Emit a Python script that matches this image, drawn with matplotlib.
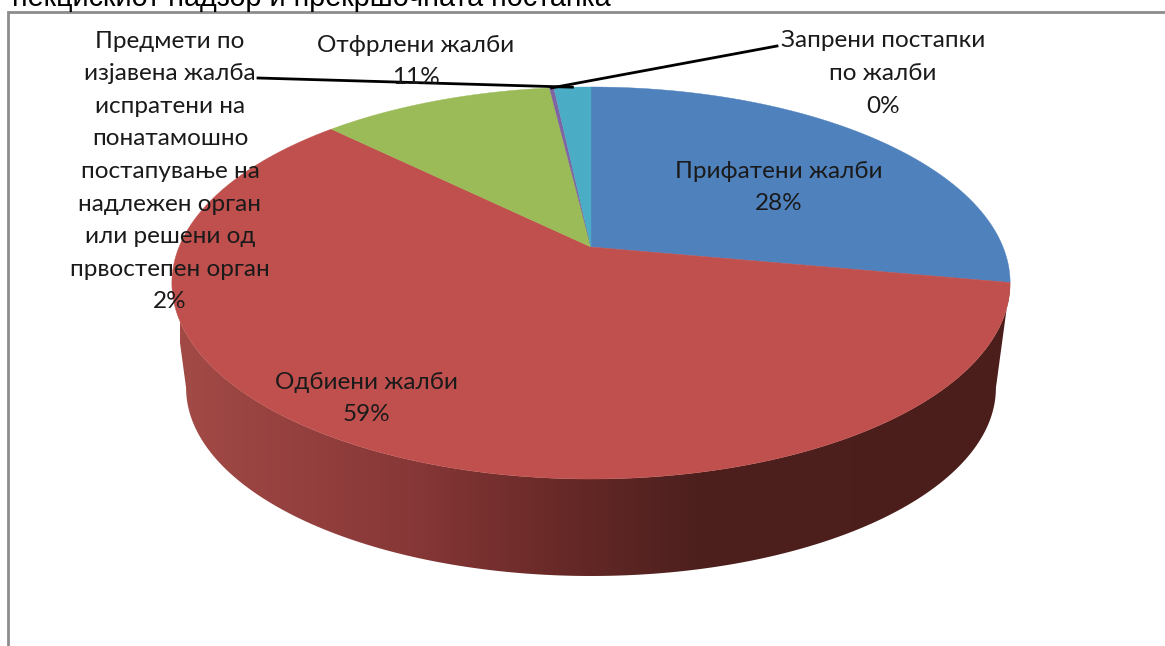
import numpy as np
import matplotlib
matplotlib.use('Agg')
import matplotlib.pyplot as plt
from matplotlib.colors import LinearSegmentedColormap

plt.rcParams['font.family'] = ['Lato', 'Open Sans', 'DejaVu Sans']

# slices, clockwise from 12 o'clock
labels = ['Прифатени жалби\n28%',
          'Одбиени жалби\n59%',
          'Отфрлени жалби\n11%',
          'Запрени постапки\nпо жалби\n0%',
          'Предмети по\nизјавена жалба\nиспратени на\nпонатамошно\nпостапување на\nнадлежен орган\nили решени од\nпрвостепен орган\n2%']
shares = [27.9, 59.5, 10.7, 0.2, 1.7]
colors = ['#4F81BD', '#C0504D', '#9BBB59', '#8064A2', '#4BACC6']
label_x = [779, 366, 416, 883, 170]
label_y = [187.5, 398.5, 61.5, 73.5, 171.5]
heading = 'пекцискиот надзор и прекршочната постапка'

# perspective of the tilted disc
k = 0.1837
top_disc = (591, 247, 412, 189.4)
low_disc = (591, 353.4, 398, 181.7)


def project(theta, disc):
    cx, cy, a, b = disc
    w = 1 + k * np.cos(theta)
    return cx + a * np.sin(theta) / w, cy - b * np.cos(theta) / w


fig = plt.figure(figsize=(11.65, 6.46), dpi=100)
ax = fig.add_axes([0, 0, 1, 1])
ax.set_xlim(0, 1165)
ax.set_ylim(646, 0)
ax.axis('off')

# frame of the embedded chart, open at the right and bottom
ax.plot([7.5, 7.5, 1165], [646, 12, 12], color='#8c8c8c', lw=2, solid_joinstyle='miter')

# side wall, shaded left to right and clipped to the outline of the lower disc
wall_cmap = LinearSegmentedColormap.from_list('wall', [
    (0.0, (162/255, 74/255, 70/255)),
    (0.28, (135/255, 55/255, 55/255)),
    (0.45, (105/255, 42/255, 40/255)),
    (0.62, (77/255, 32/255, 30/255)),
    (1.0, (75/255, 30/255, 28/255))])
t = np.radians(np.linspace(100.6, 259.4, 300))
lx, ly = project(t, low_disc)
ux, uy = project(t[::-1], top_disc)
wall = plt.Polygon(np.c_[np.r_[lx, ux], np.r_[ly, uy]], closed=True, transform=ax.transData,
                   fc='none', ec='none')
ax.add_patch(wall)
img = ax.imshow(np.linspace(0, 1, 512)[None, :], extent=[180, 1010, 580, 280], cmap=wall_cmap,
                aspect='auto', interpolation='bilinear')
img.set_clip_path(wall)
ax.set_xlim(0, 1165)
ax.set_ylim(646, 0)

# top face
edges = np.cumsum([0] + shares) / sum(shares) * 2 * np.pi
for i in range(len(shares)):
    t = np.linspace(edges[i], edges[i+1], 200)
    x, y = project(t, top_disc)
    ax.fill(np.r_[top_disc[0], x], np.r_[top_disc[1], y], color=colors[i], lw=0.3)

# leader lines to the two thin slices
mids = 0.5 * (edges[:-1] + edges[1:])
mx, my = project(mids[3], top_disc)
ax.plot([777, mx], [46, my], color='black', lw=2)
mx, my = project(mids[4], top_disc)
ax.plot([258, mx], [78, my], color='black', lw=2)

for i in range(len(labels)):
    ax.text(label_x[i], label_y[i], labels[i], ha='center', va='center', fontsize=17.5,
            linespacing=1.68, color='#1a1a1a')

ax.text(12, 5.5, heading, ha='left', va='baseline', fontsize=20.7,
        family=['Liberation Sans', 'DejaVu Sans'], color='black')

fig.savefig('out.png', dpi=100)
